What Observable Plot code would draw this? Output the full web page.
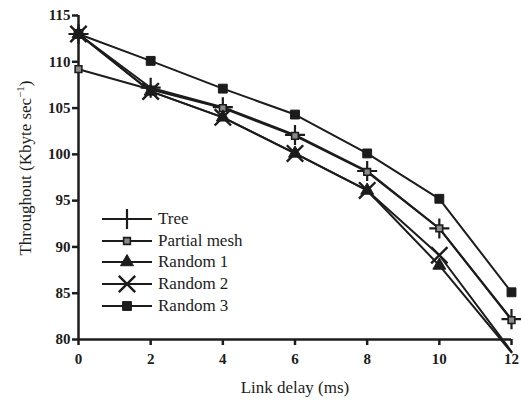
<!DOCTYPE html>
<html>
<head>
<meta charset="utf-8">
<script src="https://cdn.jsdelivr.net/npm/d3@7"></script>
<script src="https://cdn.jsdelivr.net/npm/@observablehq/plot@0.6"></script>
<style>
  html, body { margin: 0; padding: 0; background: #fff; }
  #wrap { position: relative; width: 521px; height: 402px; font-family: "Liberation Serif", serif; color: #1c1c1c; }
  #ylabel { position: absolute; left: 25px; top: 168px; transform: translate(-50%, -50%) rotate(-90deg); white-space: nowrap; font-size: 17px; }
  #ylabel sup { font-size: 11px; }
  #xlabel { position: absolute; left: 295px; top: 388px; transform: translate(-50%, -50%); white-space: nowrap; font-size: 17px; }
  #legend { position: absolute; left: 102px; top: 208px; font-size: 17px; line-height: 21.7px; }
  #legend .row { display: flex; align-items: center; height: 21.7px; }
  #legend svg { margin-right: 6px; }
</style>
</head>
<body>
<div id="wrap"></div>
<script>
const delays = [0, 2, 4, 6, 8, 10, 12];
const seriesNames = ["Tree", "Partial mesh", "Random 1", "Random 2", "Random 3"];
const tree        = [113, 107.2, 105.1, 102.1, 98.2, 92.0, 82.2];
const partialMesh = [109.2, 107.0, 105.0, 102.0, 98.1, 92.0, 82.1];
const random1     = [113, 106.8, 104.0, 100.1, 96.1, 88.0, 78.6];
const random2     = [113, 106.8, 104.0, 100.1, 96.1, 89.1, 78.7];
const random3     = [113, 110.1, 107.1, 104.3, 100.1, 95.2, 85.1];
const yTicks = [80, 85, 90, 95, 100, 105, 110, 115];
const xTicks = [0, 2, 4, 6, 8, 10, 12];

const valuesByName = {
  "Tree": tree, "Partial mesh": partialMesh, "Random 1": random1,
  "Random 2": random2, "Random 3": random3
};
const ink = "#1c1c1c";
const styles = {
  "Tree":         {symbol: "plus",   r: 6.5, fill: "none",  stroke: ink, strokeWidth: 2.2},
  "Partial mesh": {symbol: "square", r: 3.8, fill: "#8a8a8a", stroke: ink, strokeWidth: 1.6},
  "Random 1":     {symbol: "triangle", r: 4.8, fill: ink, stroke: ink, strokeWidth: 1},
  "Random 2":     {symbol: "times",  r: 7.5, fill: "none",  stroke: ink, strokeWidth: 2.4},
  "Random 3":     {symbol: "square", r: 5.0, fill: ink, stroke: ink, strokeWidth: 1}
};

const rows = seriesNames.flatMap(name =>
  delays.map((d, i) => ({series: name, delay: d, throughput: valuesByName[name][i]}))
);

const lineMarks = seriesNames.map(name =>
  Plot.line(rows.filter(r => r.series === name), {
    x: "delay", y: "throughput", stroke: ink, strokeWidth: 2
  })
);
const dotMarks = seriesNames.map(name => {
  const s = styles[name];
  return Plot.dot(rows.filter(r => r.series === name && r.throughput >= 80), {
    x: "delay", y: "throughput", symbol: s.symbol, r: s.r,
    fill: s.fill, stroke: s.stroke, strokeWidth: s.strokeWidth
  });
});

const chart = Plot.plot({
  width: 521,
  height: 402,
  marginLeft: 78,
  marginRight: 10,
  marginTop: 15,
  marginBottom: 63,
  style: {fontFamily: "'Liberation Serif', serif", fontSize: "15px", fontWeight: "bold", color: ink, background: "#fff"},
  x: {domain: [0, 12]},
  y: {domain: [80, 115]},
  marks: [
    Plot.axisX({ticks: xTicks, tickSize: 6, tickPadding: 8, label: null, tickFormat: d => String(d), strokeWidth: 2.5}),
    Plot.axisY({ticks: yTicks, tickSize: 6, tickPadding: 2, label: null, tickFormat: d => String(d), strokeWidth: 2.5}),
    Plot.ruleY([80], {stroke: ink, strokeWidth: 2.5}),
    Plot.ruleX([0], {stroke: ink, strokeWidth: 2.5}),
    ...lineMarks,
    ...dotMarks
  ]
});

const wrap = document.getElementById("wrap");
wrap.appendChild(chart);

const ylab = document.createElement("div");
ylab.id = "ylabel";
ylab.innerHTML = "Throughout (Kbyte sec<sup>\u22121</sup>)";
wrap.appendChild(ylab);

const xlab = document.createElement("div");
xlab.id = "xlabel";
xlab.textContent = "Link delay (ms)";
wrap.appendChild(xlab);

// Legend
const symbolMap = {plus: d3.symbolPlus, square: d3.symbolSquare, triangle: d3.symbolTriangle, times: d3.symbolTimes};
const legend = document.createElement("div");
legend.id = "legend";
seriesNames.forEach(name => {
  const s = styles[name];
  const row = document.createElement("div");
  row.className = "row";
  const svg = d3.create("svg").attr("width", 50).attr("height", 22);
  svg.append("line").attr("x1", 0).attr("x2", 50).attr("y1", 11).attr("y2", 11)
     .attr("stroke", ink).attr("stroke-width", 2);
  svg.append("path")
     .attr("transform", "translate(25,11)")
     .attr("d", d3.symbol(symbolMap[s.symbol], Math.PI * s.r * s.r)())
     .attr("fill", s.fill).attr("stroke", s.stroke).attr("stroke-width", s.strokeWidth);
  row.appendChild(svg.node());
  const t = document.createElement("span");
  t.textContent = name;
  row.appendChild(t);
  legend.appendChild(row);
});
wrap.appendChild(legend);
</script>
</body>
</html>
